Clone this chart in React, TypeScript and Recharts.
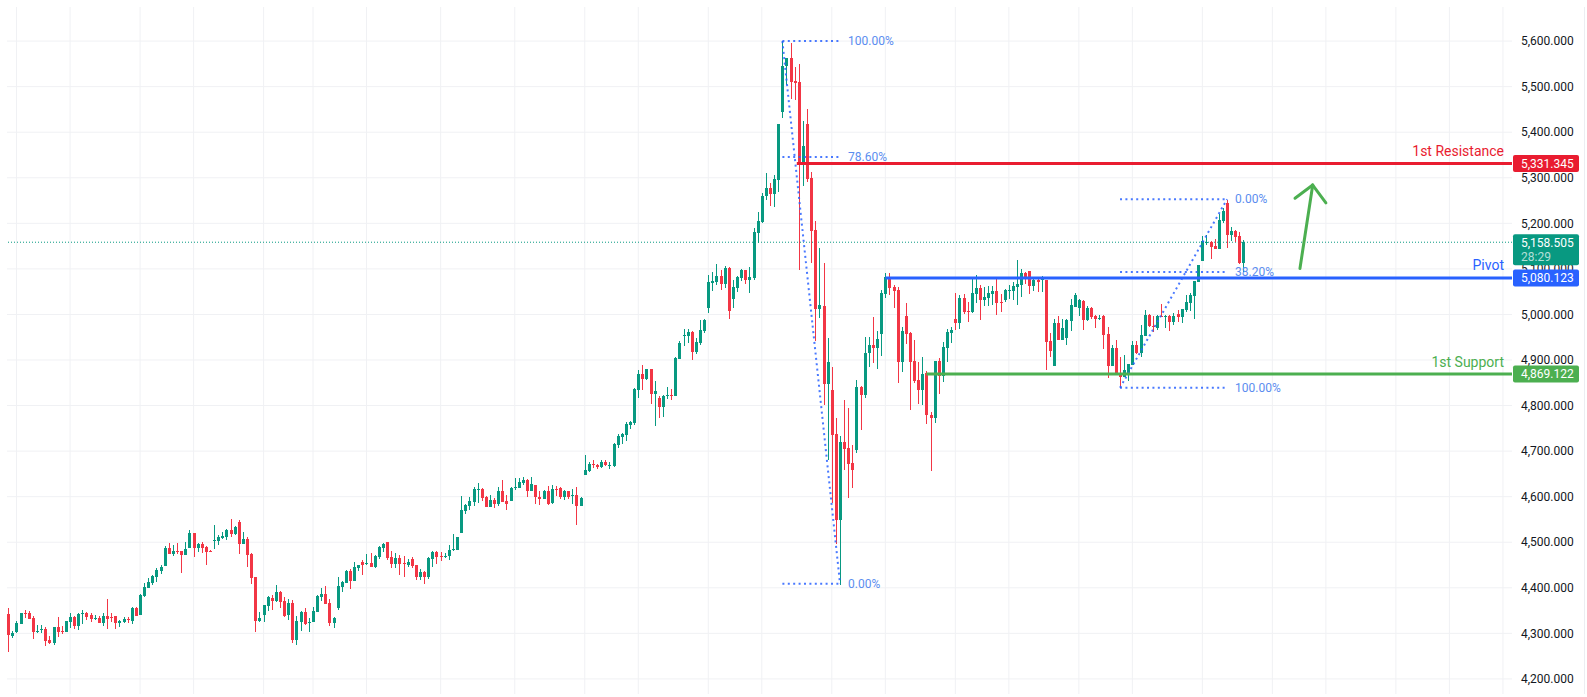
import { ComposedChart, Bar, XAxis, YAxis, ReferenceLine, ReferenceDot } from "recharts";

// candle values, in rows of ten
const opens = [
  4342,4294,4303,4320,4345,4345,4334,4303,4307,4309,
  4285,4279,4314,4305,4303,4325,4336,4316,4342,4345,
  4340,4331,4334,4323,4338,4336,4338,4323,4325,4331,
  4327,4356,4340,4382,4399,4410,4424,4437,4448,4487,
  4474,4481,4481,4472,4487,4520,4487,4496,4489,4481,
  4503,4503,4509,4511,4527,4518,4544,4496,4507,4474,
  4424,4327,4340,4360,4378,4371,4391,4371,4340,4366,
  4285,4325,4347,4324,4325,4347,4380,4386,4367,4323,
  4356,4402,4410,4437,4415,4443,4457,4452,4454,4446,
  4468,4487,4500,4468,4452,4465,4454,4450,4463,4450,
  4424,4435,4424,4463,4478,4470,4468,4470,4483,4483,
  4520,4568,4579,4588,4615,4617,4599,4577,4593,4584,
  4612,4590,4590,4619,4619,4630,4636,4612,4626,4599,
  4595,4612,4586,4617,4619,4599,4612,4601,4604,4579,
  4647,4656,4672,4669,4665,4676,4668,4667,4713,4731,
  4735,4757,4762,4834,4869,4858,4880,4825,4816,4797,
  4821,4823,4821,4902,4953,4953,4961,4917,4937,4964,
  5014,5069,5071,5084,5067,5102,5034,5058,5080,5097,
  5075,5080,5179,5203,5260,5278,5264,5295,5444,5545,
  5563,5512,5510,5332,5418,5299,5185,5012,5019,4847,
  4834,4738,4549,4720,4707,4674,4702,4841,4823,4915,
  4933,4926,4957,5045,5082,5060,5054,4896,4997,4959,
  4898,4856,4834,4871,4779,4773,4898,4865,4926,4959,
  4990,4981,5036,5008,5005,5045,5058,5032,5036,5045,
  5051,5027,5032,5051,5051,5060,5065,5091,5095,5062,
  5076,5076,5076,4942,4887,4981,4944,4948,4985,5016,
  5014,5029,4988,5014,4997,4990,4997,4957,4887,4926,
  4871,4863,4869,4889,4933,4915,4953,4999,4975,4970,
  4997,4994,4997,4983,5001,4994,5010,5025,5040,5071,
  5117,5157,5159,5150,5144,5205,5245,5174,5183,5172,5113,
];
const highs = [
  4356,4305,4327,4345,4351,4349,4338,4318,4318,4314,
  4294,4314,4336,4316,4327,4345,4338,4345,4351,4347,
  4345,4340,4338,4345,4375,4345,4338,4329,4336,4336,
  4358,4358,4386,4410,4421,4428,4443,4450,4491,4498,
  4494,4498,4481,4500,4527,4520,4498,4500,4492,4483,
  4538,4516,4522,4529,4551,4536,4549,4522,4511,4476,
  4424,4347,4362,4382,4384,4406,4393,4380,4375,4373,
  4338,4349,4356,4334,4358,4384,4399,4404,4375,4336,
  4424,4415,4439,4441,4457,4450,4461,4474,4476,4472,
  4492,4498,4500,4481,4476,4472,4470,4463,4468,4450,
  4441,4437,4468,4481,4481,4478,4476,4494,4518,4511,
  4601,4584,4599,4621,4630,4619,4601,4604,4597,4621,
  4636,4604,4621,4641,4641,4643,4639,4643,4626,4612,
  4615,4623,4626,4623,4621,4615,4612,4617,4621,4599,
  4691,4676,4680,4672,4680,4680,4676,4718,4737,4740,
  4764,4766,4838,4878,4889,4880,4880,4854,4821,4823,
  4841,4836,4906,4942,4968,4968,4964,4948,4988,4990,
  5086,5093,5111,5097,5106,5104,5075,5084,5100,5097,
  5104,5190,5225,5266,5310,5288,5306,5418,5600,5563,
  5596,5543,5550,5425,5451,5313,5205,5146,5113,4948,
  4885,4773,4733,4812,4795,4713,4856,4843,4950,4950,
  4994,4964,5054,5091,5091,5065,5060,4972,5025,4961,
  4944,4896,4907,4876,4786,4898,4904,4939,4968,4972,
  5047,5043,5045,5027,5080,5087,5065,5060,5062,5062,
  5078,5045,5056,5065,5071,5119,5100,5093,5095,5080,
  5078,5084,5076,4959,4990,4997,4990,4990,5034,5047,
  5034,5032,5019,5016,4999,4999,4999,4972,4933,4944,
  4907,4911,4891,4942,4942,4977,5010,5001,4997,4999,
  5023,4999,4999,5003,5010,5012,5043,5047,5073,5108,
  5172,5174,5161,5166,5220,5234,5251,5192,5185,5181,5163,
];
const lows = [
  4260,4290,4301,4320,4334,4331,4288,4301,4301,4272,
  4277,4274,4292,4298,4303,4312,4309,4307,4320,4329,
  4325,4329,4323,4316,4309,4325,4309,4314,4323,4323,
  4320,4338,4340,4380,4399,4406,4413,4430,4448,4474,
  4470,4474,4432,4472,4487,4468,4478,4476,4450,4478,
  4485,4494,4507,4505,4511,4516,4474,4496,4446,4408,
  4303,4325,4325,4349,4351,4369,4356,4336,4329,4279,
  4274,4305,4318,4303,4325,4347,4371,4364,4316,4312,
  4351,4391,4410,4397,4415,4437,4428,4450,4446,4443,
  4463,4478,4461,4443,4443,4428,4424,4446,4443,4417,
  4417,4408,4419,4446,4452,4459,4465,4461,4481,4483,
  4520,4562,4571,4579,4586,4590,4577,4577,4575,4579,
  4588,4571,4590,4615,4619,4626,4599,4612,4584,4582,
  4595,4582,4584,4601,4595,4593,4595,4584,4538,4579,
  4647,4654,4663,4661,4663,4667,4661,4665,4707,4715,
  4722,4748,4757,4816,4834,4856,4803,4755,4773,4775,
  4814,4812,4821,4902,4931,4937,4900,4913,4933,4959,
  5003,5051,5065,5054,5058,4990,5014,5049,5073,5067,
  5047,5075,5157,5201,5251,5238,5236,5269,5431,5504,
  5473,5471,5098,5282,5291,5113,4942,4992,4801,4680,
  4586,4496,4406,4659,4597,4619,4696,4746,4817,4885,
  4893,4880,4909,5036,5043,5014,4850,4874,4935,4790,
  4850,4803,4801,4759,4656,4762,4825,4852,4896,4937,
  4966,4968,5001,4983,5003,5025,4988,5019,5019,5021,
  4999,5005,5027,5034,5032,5021,5038,5067,5045,5051,
  5049,5049,4878,4907,4887,4944,4944,4933,4964,5016,
  4997,4966,4986,4990,4970,4988,4924,4860,4887,4869,
  4838,4863,4854,4889,4913,4906,4953,4972,4961,4966,
  4994,4970,4964,4977,4983,4981,5005,5007,4990,5071,
  5117,5152,5122,5144,5144,5201,5146,5161,5159,5111,5093,
];
const closes = [
  4295,4301,4323,4345,4342,4331,4303,4305,4309,4283,
  4279,4314,4303,4303,4327,4336,4316,4342,4345,4336,
  4331,4334,4323,4338,4331,4334,4323,4327,4331,4329,
  4356,4338,4384,4402,4413,4426,4439,4446,4487,4474,
  4481,4478,4472,4485,4520,4487,4496,4487,4478,4478,
  4505,4511,4514,4527,4518,4533,4496,4507,4472,4421,
  4327,4334,4362,4380,4371,4391,4369,4338,4366,4285,
  4327,4347,4320,4325,4349,4382,4386,4364,4323,4334,
  4404,4413,4437,4415,4445,4450,4450,4454,4446,4470,
  4489,4496,4465,4452,4465,4452,4452,4457,4448,4424,
  4435,4424,4465,4478,4468,4468,4470,4483,4485,4511,
  4571,4582,4590,4617,4617,4597,4577,4593,4584,4612,
  4588,4584,4619,4621,4632,4636,4612,4628,4599,4595,
  4612,4584,4617,4615,4599,4612,4599,4604,4579,4597,
  4658,4672,4669,4665,4676,4669,4669,4715,4733,4737,
  4759,4764,4836,4869,4858,4880,4825,4832,4797,4821,
  4823,4821,4904,4937,4955,4961,4917,4939,4966,4988,
  5071,5073,5084,5067,5102,5007,5060,5082,5097,5075,
  5082,5181,5205,5260,5278,5264,5297,5418,5545,5563,
  5510,5508,5332,5370,5297,5183,5012,5021,4847,4896,
  4735,4549,4720,4705,4672,4659,4841,4823,4915,4933,
  4926,4946,5047,5082,5058,5051,4896,4964,4957,4896,
  4854,4834,4869,4779,4773,4898,4865,4928,4961,4966,
  4981,5036,5005,5005,5047,5058,5032,5038,5047,5051,
  5025,5025,5054,5054,5062,5067,5091,5082,5062,5076,
  5071,5080,4939,4920,4981,4944,4970,4988,5021,5043,
  5032,4988,5014,4994,4990,4992,4955,4887,4926,4869,
  4863,4878,4891,4933,4915,4955,4999,4975,4972,4997,
  4994,4997,4983,4997,4994,5012,5027,5043,5073,5108,
  5161,5159,5148,5144,5207,5227,5174,5183,5170,5113,5158.505,
];

const priceTicks = [5600, 5500, 5400, 5300, 5200, 5100, 5000, 4900, 4800, 4700, 4600, 4500, 4400, 4300, 4200];
const dateTicks = [2, 15, 32, 45, 62, 74, 87, 105, 123, 140, 153, 170, 183, 200, 213, 230, 243, 260, 273, 290, 307, 320, 337, 350, 363];

const lastPrice = 5158.505;
const countdown = "28:29";
const xStart = -0.32;
const xEnd = 365.2;

// level name, price, first candle
const levels = [
  { name: "1st Resistance", price: 5331.345, from: 191.5, color: "#e91c30" },
  { name: "Pivot", price: 5080.123, from: 213, color: "#2962ff" },
  { name: "1st Support", price: 4869.122, from: 223, color: "#4caf50" },
];

// fib retracement drawings
const fibs = [
  {
    from: [188, 5600], to: [202, 4409], left: 188, right: 202,
    rows: [[5600, "100.00%"], [5345.5, "78.60%"], [4409, "0.00%"]],
  },
  {
    from: [270, 4839], to: [296, 5253], left: 270, right: 296,
    rows: [[5253, "0.00%"], [5093, "38.20%"], [4839, "100.00%"]],
  },
];

const arrow = [
  [[313.7, 5101], [316.8, 5284]],
  [[312.5, 5255], [316.8, 5284]],
  [[320, 5245], [316.8, 5284]],
];

const candles = opens.map((o, i) => ({
  i,
  o,
  h: highs[i],
  l: lows[i],
  c: closes[i],
  range: [lows[i], highs[i]],
}));

const GREEN = "#089981";
const RED = "#f23645";
const GRID = "#f0f1f4";
const FONT = "Roboto, sans-serif";
const TOP = 2000;

const fmt = (v: number, digits = 3) =>
  v.toLocaleString("en-US", { minimumFractionDigits: digits, maximumFractionDigits: digits });

const Candle = (props: any) => {
  const { x, y, width, height, payload } = props;
  const { o, h, l, c } = payload;
  const k = height / (h - l);
  const top = y + (h - Math.max(o, c)) * k;
  const bottom = y + (h - Math.min(o, c)) * k;
  const cx = x + width / 2;
  const fill = c >= o ? GREEN : RED;
  return (
    <g shapeRendering="crispEdges">
      <rect x={Math.round(cx - 0.5)} y={Math.round(y)} width={1} height={Math.max(1, Math.round(height))} fill={fill} />
      <rect x={Math.round(cx - 1.5)} y={Math.round(top)} width={3} height={Math.max(1, Math.round(bottom - top))} fill={fill} />
    </g>
  );
};

const priceBox = (color: string, text: string, sub?: string) => (props: any) => {
  const { cx, cy } = props;
  const boxH = sub ? 31 : 17;
  const top = sub ? cy - 8 : cy - 8.5;
  return (
    <g>
      <rect x={cx + 1} y={top} width={66} height={boxH} rx={2} fill={color} />
      <text x={cx + 9} y={top + 12.6} fill="#fff" fontSize={12} fontFamily={FONT}>{text}</text>
      {sub && <text x={cx + 9} y={top + 26.5} fill="rgba(255,255,255,0.7)" fontSize={12} fontFamily={FONT}>{sub}</text>}
    </g>
  );
};

const textAt = (text: string, color: string, anchor: "start" | "end", dx: number, dy: number, size: number) => (props: any) => (
  <text x={props.cx + dx} y={props.cy + dy} fill={color} fontSize={size} fontFamily={FONT} textAnchor={anchor}>{text}</text>
);

export default function App() {
  return (
    <div style={{ position: "absolute", left: 0, top: 0, width: 1587, height: 697, background: "#fff" }}>
      <div style={{ position: "absolute", left: 1584, top: 7, width: 1, height: 687, background: "#eceef2" }} />
      <ComposedChart
        width={1587}
        height={697}
        data={candles}
        margin={{ top: 7, right: 0, bottom: 3, left: 7 }}
      >
        <XAxis
          dataKey="i"
          type="number"
          domain={[xStart, xEnd]}
          allowDataOverflow
          ticks={dateTicks}
          tick={false}
          axisLine={false}
          tickLine={false}
          height={0}
        />
        <YAxis
          orientation="right"
          domain={[4166.9, 5674.8]}
          allowDataOverflow
          ticks={priceTicks}
          width={75}
          axisLine={false}
          tickLine={false}
          tickMargin={3}
          tick={{ fill: "#131722", fontSize: 12, fontFamily: FONT }}
          tickFormatter={(v: number) => fmt(v)}
        />
        {dateTicks.map((d) => (
          <ReferenceLine key={`gx${d}`} x={d} stroke={GRID} zIndex={0} />
        ))}
        {priceTicks.map((p) => (
          <ReferenceLine key={`gy${p}`} y={p} stroke={GRID} zIndex={0} />
        ))}
        <ReferenceLine y={lastPrice} stroke={GREEN} strokeDasharray="1 2" zIndex={0} />
        <Bar dataKey="range" barSize={3} shape={Candle} isAnimationActive={false} />

        {fibs.map((f, n) => (
          <ReferenceLine
            key={`d${n}`}
            segment={[{ x: f.from[0], y: f.from[1] }, { x: f.to[0], y: f.to[1] }]}
            stroke="#2962ff"
            strokeOpacity={0.85}
            strokeWidth={2}
            strokeDasharray="2 3.4"
          />
        ))}
        {fibs.flatMap((f, n) =>
          f.rows.map((r, m) => (
            <ReferenceLine
              key={`h${n}-${m}`}
              segment={[{ x: f.left, y: r[0] as number }, { x: f.right, y: r[0] as number }]}
              stroke="#2962ff"
              strokeOpacity={0.85}
              strokeWidth={2}
              strokeDasharray="2 3.4"
            />
          ))
        )}
        {fibs.flatMap((f, n) =>
          f.rows.map((r, m) => (
            <ReferenceDot
              key={`t${n}-${m}`}
              x={f.right}
              y={r[0] as number}
              r={0}
              ifOverflow="visible"
              shape={textAt(r[1] as string, "#5b8def", "start", 8, 4, 12)}
            />
          ))
        )}

        {levels.map((lv) => (
          <ReferenceLine
            key={lv.name}
            segment={[{ x: lv.from, y: lv.price }, { x: xEnd, y: lv.price }]}
            stroke={lv.color}
            strokeWidth={3}
          />
        ))}
        {levels.map((lv) => (
          <ReferenceDot
            key={`n${lv.name}`}
            x={xEnd}
            y={lv.price}
            r={0}
            ifOverflow="visible"
            shape={textAt(lv.name, lv.color, "end", -8, -7.5, 14)}
          />
        ))}
        {arrow.map((s, n) => (
          <ReferenceLine
            key={`a${n}`}
            segment={[{ x: s[0][0], y: s[0][1] }, { x: s[1][0], y: s[1][1] }]}
            stroke="#4caf50"
            strokeWidth={3}
            strokeLinecap="round"
          />
        ))}
        <ReferenceDot
          x={xEnd}
          y={lastPrice}
          r={0}
          ifOverflow="visible"
          zIndex={TOP}
          shape={priceBox(GREEN, fmt(lastPrice), countdown)}
        />
        {levels.map((lv) => (
          <ReferenceDot
            key={`b${lv.name}`}
            x={xEnd}
            y={lv.price}
            r={0}
            ifOverflow="visible"
            zIndex={TOP}
            shape={priceBox(lv.color, fmt(lv.price))}
          />
        ))}
      </ComposedChart>
    </div>
  );
}
